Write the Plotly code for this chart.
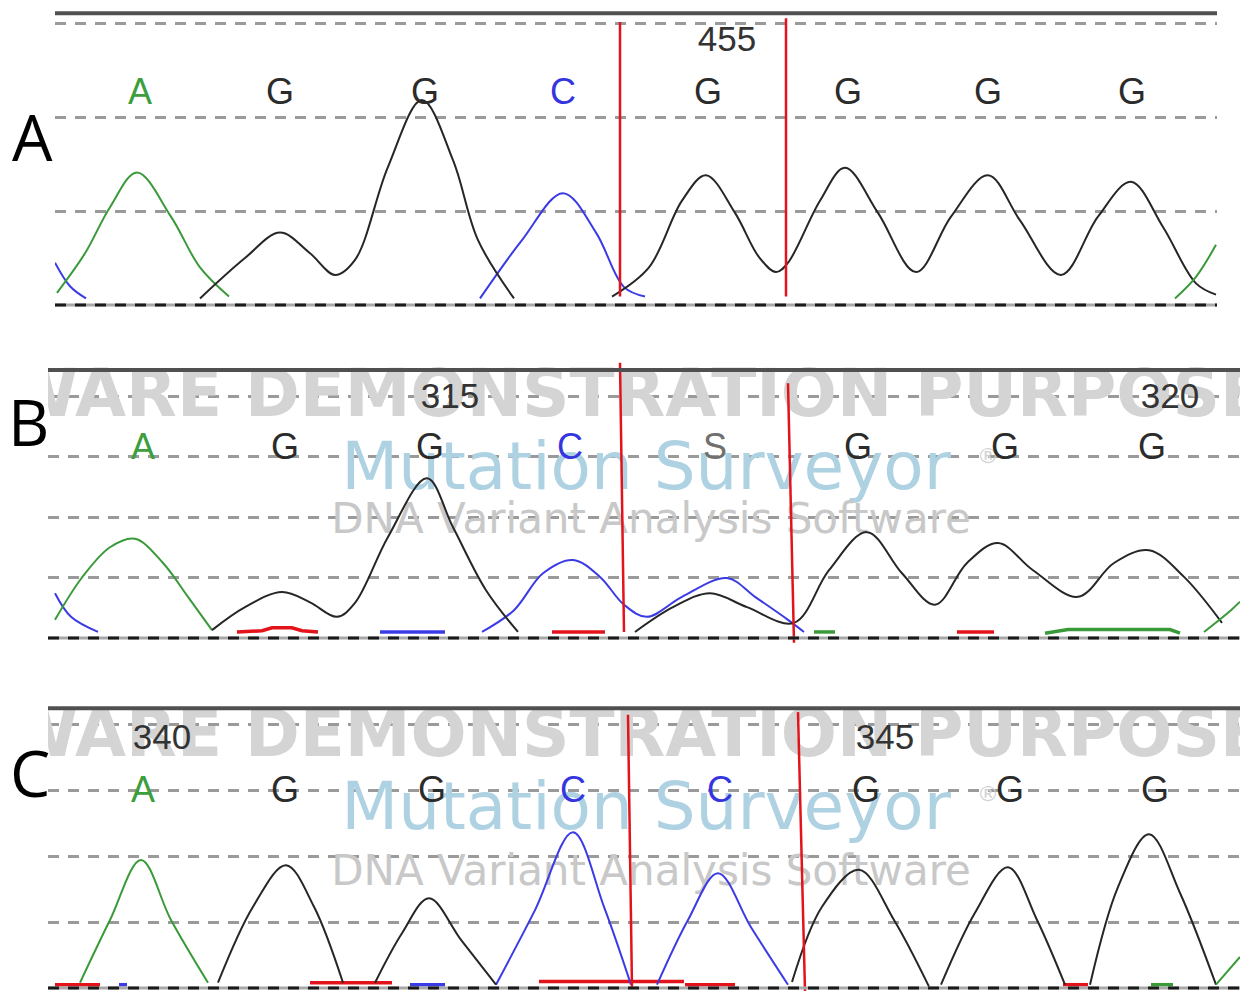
import plotly.graph_objects as go

W, H = 1240, 991

# ---------------- Panel A (x = scan position, y = signal) ----------------
A_blue0_x = [55, 70, 86]
A_blue0_y = [0.45, 0.2, 0.07]
A_green_x = [57, 85, 110, 137, 171, 200, 229]
A_green_y = [0.13, 0.55, 1.04, 1.41, 0.94, 0.4, 0.09]
A_black_x = [200, 245, 280, 310, 335, 355, 388, 422, 453, 478, 514, None,
             612, 649, 682, 706, 735, 759, 776, 788, 820, 845, 878, 916, 951,
             988, 1020, 1061, 1098, 1131, 1163, 1196, 1216]
A_black_y = [0.07, 0.5, 0.77, 0.55, 0.32, 0.48, 1.47, 2.18, 1.54, 0.69, 0.07, None,
             0.09, 0.4, 1.11, 1.38, 0.98, 0.51, 0.35, 0.45, 1.11, 1.46, 0.98, 0.35, 0.94,
             1.38, 0.9, 0.32, 0.94, 1.31, 0.83, 0.23, 0.11]
A_blue_x = [480, 522, 563, 596, 624, 645]
A_blue_y = [0.07, 0.69, 1.19, 0.77, 0.19, 0.09]
A_green2_x = [1175, 1196, 1216]
A_green2_y = [0.07, 0.3, 0.64]
A_cut_x = [620, 620, None, 786, 786]
A_cut_y = [3.01, 0.09, None, 3.05, 0.09]
A_base_x = [140, 280, 425, 563, 708, 848, 988, 1132]
A_bases = ["A", "G", "G", "C", "G", "G", "G", "G"]
A_num_x = [727]
A_nums = ["455"]

# ---------------- Panel B ----------------
B_blue0_x = [55, 71, 98]
B_blue0_y = [0.74, 0.35, 0.1]
B_green_x = [55, 82, 110, 135, 163, 188, 212]
B_green_y = [0.3, 1.0, 1.5, 1.64, 1.24, 0.68, 0.13]
B_black_x = [212, 245, 282, 310, 337, 355, 388, 427, 453, 486, 518, None,
             635, 673, 710, 747, 794, 829, 867, 902, 935, 967, 998, 1033, 1078,
             1114, 1149, 1184, 1222]
B_black_y = [0.13, 0.51, 0.76, 0.59, 0.35, 0.58, 1.67, 2.64, 1.83, 0.79, 0.1, None,
             0.1, 0.51, 0.74, 0.51, 0.25, 1.12, 1.75, 1.07, 0.55, 1.24, 1.57, 1.12, 0.68,
             1.24, 1.45, 1.01, 0.25]
B_blue_x = [482, 514, 543, 573, 600, 624, 647, 682, 727, 755, 788, 804]
B_blue_y = [0.1, 0.46, 1.07, 1.29, 1.01, 0.55, 0.35, 0.68, 0.99, 0.68, 0.3, 0.1]
B_green2_x = [1204, 1231, 1240]
B_green2_y = [0.1, 0.46, 0.6]
B_redbits_x = [237, 262, 272, 292, 302, 318, None, 552, 605, None, 957, 994]
B_redbits_y = [0.1, 0.12, 0.17, 0.17, 0.12, 0.1, None, 0.1, 0.1, None, 0.1, 0.1]
B_bluebits_x = [380, 445]
B_bluebits_y = [0.1, 0.1]
B_greenbits_x = [814, 835, None, 1045, 1068, 1170, 1180]
B_greenbits_y = [0.1, 0.1, None, 0.08, 0.14, 0.14, 0.08]
B_cut_x = [620, 624, None, 788, 794]
B_cut_y = [4.55, 0.1, None, 4.21, -0.08]
B_base_x = [143, 285, 430, 570, 715, 858, 1005, 1152]
B_bases = ["A", "G", "G", "C", "S", "G", "G", "G"]
B_num_x = [450, 1170]
B_nums = ["315", "320"]

# ---------------- Panel C ----------------
C_green_x = [80, 110, 141, 171, 208]
C_green_y = [0.08, 1.03, 1.94, 1.03, 0.08]
C_black_x = [218, 253, 286, 314, 343, None, 375, 402, 429, 461, 496, None,
             792, 822, 859, 894, 929, None, 941, 975, 1008, 1037, 1065, None,
             1090, 1118, 1149, 1180, 1216]
C_black_y = [0.08, 1.23, 1.86, 1.23, 0.08, None, 0.08, 0.83, 1.36, 0.73, 0.05, None,
             0.09, 1.23, 1.79, 1.03, 0.02, None, 0.05, 1.14, 1.83, 1.03, 0.05, None,
             0.05, 1.53, 2.33, 1.44, 0.05]
C_blue_x = [496, 535, 573, 604, 631, None, 657, 688, 718, 751, 788]
C_blue_y = [0.05, 1.18, 2.36, 1.23, 0.05, None, 0.05, 1.03, 1.74, 0.92, 0.05]
C_green2_x = [1216, 1240]
C_green2_y = [0.05, 0.47]
C_redbits_x = [55, 100, None, 310, 392, None, 539, 684, None, 685, 735, None, 1063, 1088]
C_redbits_y = [0.05, 0.05, None, 0.08, 0.08, None, 0.1, 0.1, None, 0.05, 0.05, None, 0.05, 0.05]
C_bluebits_x = [119, 127, None, 410, 445]
C_bluebits_y = [0.05, 0.05, None, 0.05, 0.05]
C_greenbits_x = [1151, 1173]
C_greenbits_y = [0.05, 0.05]
C_cut_x = [628, 632, None, 798, 805]
C_cut_y = [4.14, 0.0, None, 4.18, -0.05]
C_base_x = [143, 285, 432, 573, 720, 866, 1010, 1155]
C_bases = ["A", "G", "G", "C", "C", "G", "G", "G"]
C_num_x = [162, 885]
C_nums = ["340", "345"]

WM_LINE1 = "SOFTWARE DEMONSTRATION PURPOSES"
WM_LINE2 = "Mutation Surveyor"
WM_LINE3 = "DNA Variant Analysis Software"

BASE_COLORS = {"A": "#3d9e3d", "G": "#2b2b2b", "C": "#3535e0", "S": "#707070"}
GREEN, BLACK, BLUE, RED = "#3a9a3a", "#262626", "#3b3be6", "#e3131b"

# panel geometry (pixels)
panels = [
    dict(name="A", zero=305, unit=94.0, top=6, bot=312, left=55, right=1217, rule=3.105, ngrid=3,
         base_y=2.23, num_y=2.8, label_xy=(32, 136), wm=None),
    dict(name="B", zero=638, unit=60.5, top=360, bot=648, left=48, right=1240, rule=4.43, ngrid=4,
         base_y=3.11, num_y=3.95, label_xy=(28, 421), wm=(3.95, 2.73, 1.91)),
    dict(name="C", zero=988, unit=66.0, top=700, bot=991, left=48, right=1240, rule=4.24, ngrid=4,
         base_y=2.95, num_y=3.76, label_xy=(30, 772), wm=(3.76, 2.66, 1.72)),
]

series = {
    "A": dict(traces=[(A_blue0_x, A_blue0_y, BLUE), (A_green_x, A_green_y, GREEN),
                      (A_blue_x, A_blue_y, BLUE), (A_black_x, A_black_y, BLACK),
                      (A_green2_x, A_green2_y, GREEN)],
              bits=[], cut=(A_cut_x, A_cut_y), base_x=A_base_x, bases=A_bases,
              num_x=A_num_x, nums=A_nums),
    "B": dict(traces=[(B_blue0_x, B_blue0_y, BLUE), (B_green_x, B_green_y, GREEN),
                      (B_blue_x, B_blue_y, BLUE), (B_black_x, B_black_y, BLACK),
                      (B_green2_x, B_green2_y, GREEN)],
              bits=[(B_redbits_x, B_redbits_y, RED), (B_bluebits_x, B_bluebits_y, BLUE),
                    (B_greenbits_x, B_greenbits_y, GREEN)],
              cut=(B_cut_x, B_cut_y), base_x=B_base_x, bases=B_bases,
              num_x=B_num_x, nums=B_nums),
    "C": dict(traces=[(C_green_x, C_green_y, GREEN), (C_blue_x, C_blue_y, BLUE),
                      (C_black_x, C_black_y, BLACK), (C_green2_x, C_green2_y, GREEN)],
              bits=[(C_redbits_x, C_redbits_y, RED), (C_bluebits_x, C_bluebits_y, BLUE),
                    (C_greenbits_x, C_greenbits_y, GREEN)],
              cut=(C_cut_x, C_cut_y), base_x=C_base_x, bases=C_bases,
              num_x=C_num_x, nums=C_nums),
}

fig = go.Figure()
layout = dict(width=W, height=H, margin=dict(l=0, r=0, t=0, b=0),
              paper_bgcolor="white", plot_bgcolor="white", showlegend=False,
              shapes=[], annotations=[])

for i, p in enumerate(panels):
    k = "" if i == 0 else str(i + 1)
    xa, ya = "x" + k, "y" + k
    s = series[p["name"]]
    ydom = [1 - p["bot"] / H, 1 - p["top"] / H]
    yr = [(p["zero"] - p["bot"]) / p["unit"], (p["zero"] - p["top"]) / p["unit"]]
    layout["xaxis" + k] = dict(domain=[p["left"] / W, p["right"] / W], range=[p["left"], p["right"]],
                               visible=False, anchor=ya, fixedrange=True)
    layout["yaxis" + k] = dict(domain=ydom, range=yr, anchor=xa, showticklabels=False, ticks="",
                               showline=False, zeroline=False, showgrid=True,
                               tickvals=list(range(1, p["ngrid"] + 1)),
                               gridcolor="#9a9a9a", gridwidth=2.5, griddash="11px,9px",
                               fixedrange=True)
    # watermark (clipped to the plot area)
    if p["wm"]:
        y1, y2, y3 = p["wm"]
        fig.add_trace(go.Scatter(x=[562], y=[y1], mode="text", text=[WM_LINE1],
                                 textfont=dict(family="DejaVu Sans", size=66, color="#d4d4d4", weight="bold"),
                                 textposition="middle center", cliponaxis=True, hoverinfo="skip",
                                 xaxis=xa, yaxis=ya))
        fig.add_trace(go.Scatter(x=[646], y=[y2], mode="text", text=[WM_LINE2],
                                 textfont=dict(family="DejaVu Sans", size=66, color="#afd2e3"),
                                 textposition="middle center", cliponaxis=True, hoverinfo="skip",
                                 xaxis=xa, yaxis=ya))
        fig.add_trace(go.Scatter(x=[988], y=[y2 + 0.25], mode="text", text=["®"],
                                 textfont=dict(family="DejaVu Sans", size=22, color="#d2d2d2"),
                                 textposition="middle center", cliponaxis=True, hoverinfo="skip",
                                 xaxis=xa, yaxis=ya))
        fig.add_trace(go.Scatter(x=[651], y=[y3], mode="text", text=[WM_LINE3],
                                 textfont=dict(family="DejaVu Sans", size=42, color="#c8c8c8"),
                                 textposition="middle center", cliponaxis=True, hoverinfo="skip",
                                 xaxis=xa, yaxis=ya))
    for bx, by, col in s["bits"]:
        fig.add_trace(go.Scatter(x=bx, y=by, mode="lines", line=dict(color=col, width=3.5),
                                 hoverinfo="skip", xaxis=xa, yaxis=ya))
    for tx, ty, col in s["traces"]:
        fig.add_trace(go.Scatter(x=tx, y=ty, mode="lines",
                                 line=dict(color=col, width=2, shape="spline", smoothing=1.0),
                                 connectgaps=False, hoverinfo="skip", xaxis=xa, yaxis=ya))
    cx, cy = s["cut"]
    fig.add_trace(go.Scatter(x=cx, y=cy, mode="lines", line=dict(color=RED, width=2.5),
                             cliponaxis=False, hoverinfo="skip", xaxis=xa, yaxis=ya))
    fig.add_trace(go.Scatter(x=s["base_x"], y=[p["base_y"]] * len(s["base_x"]), mode="text",
                             text=s["bases"], textposition="middle center", cliponaxis=False,
                             textfont=dict(family="Liberation Sans", size=36,
                                           color=[BASE_COLORS[b] for b in s["bases"]]),
                             hoverinfo="skip", xaxis=xa, yaxis=ya))
    fig.add_trace(go.Scatter(x=s["num_x"], y=[p["num_y"]] * len(s["num_x"]), mode="text",
                             text=s["nums"], textposition="middle center", cliponaxis=False,
                             textfont=dict(family="Liberation Sans", size=35, color="#333333"),
                             hoverinfo="skip", xaxis=xa, yaxis=ya))
    layout["shapes"] += [
        dict(type="line", xref=xa + " domain", yref=ya, x0=0, x1=1, y0=p["rule"], y1=p["rule"],
             line=dict(color="#505050", width=4)),
        dict(type="line", xref=xa + " domain", yref=ya, x0=0, x1=1, y0=0, y1=0,
             line=dict(color="#a8a8a8", width=3)),
        dict(type="line", xref=xa + " domain", yref=ya, x0=0, x1=1, y0=0, y1=0,
             line=dict(color="#1a1a1a", width=3, dash="11px,9px")),
    ]
    lx, ly = p["label_xy"]
    layout["annotations"].append(dict(text=p["name"], xref="paper", yref="paper",
                                      x=lx / W, y=1 - ly / H, showarrow=False,
                                      xanchor="center", yanchor="middle",
                                      font=dict(family="Open Sans", size=64, color="#000000")))

fig.update_layout(**layout)
fig.write_html("out.html", config={"displayModeBar": False},
               post_script="document.body.style.margin='0px';document.body.style.overflow='hidden';")
